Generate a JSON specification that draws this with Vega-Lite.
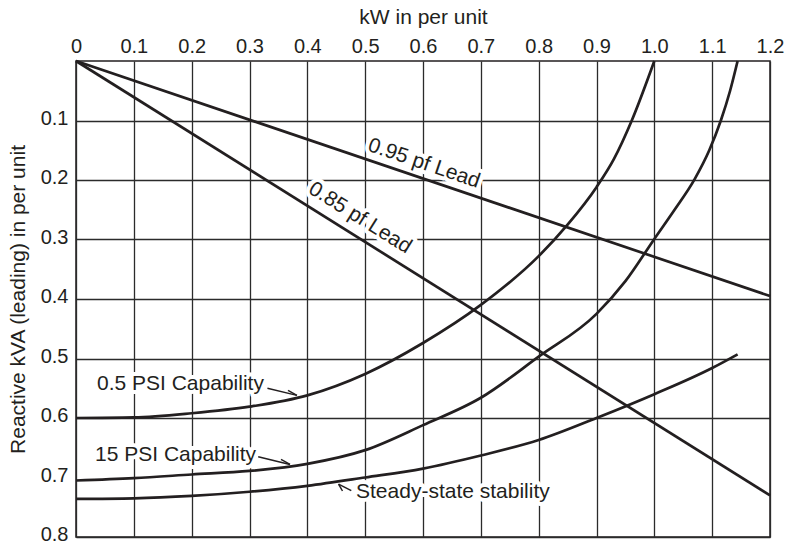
{
  "$schema": "https://vega.github.io/schema/vega-lite/v6.json",
  "width": 694,
  "height": 476,
  "autosize": {"type": "none"},
  "padding": {"left": 76, "top": 61, "right": 19, "bottom": 7},
  "background": "white",
  "view": {"stroke": "#231f20", "strokeWidth": 1.5},
  "config": {
    "font": "Liberation Sans",
    "text": {"font": "Liberation Sans", "fontSize": 21, "color": "#231f20"}
  },
  "datasets": {
    "curves": [
      {"series": "0.5 PSI", "x": 0, "y": 0.600},
      {"series": "0.5 PSI", "x": 0.1, "y": 0.599},
      {"series": "0.5 PSI", "x": 0.2, "y": 0.592},
      {"series": "0.5 PSI", "x": 0.3, "y": 0.581},
      {"series": "0.5 PSI", "x": 0.4, "y": 0.562},
      {"series": "0.5 PSI", "x": 0.5, "y": 0.526},
      {"series": "0.5 PSI", "x": 0.6, "y": 0.474},
      {"series": "0.5 PSI", "x": 0.7, "y": 0.41},
      {"series": "0.5 PSI", "x": 0.8, "y": 0.328},
      {"series": "0.5 PSI", "x": 0.85, "y": 0.275},
      {"series": "0.5 PSI", "x": 0.9, "y": 0.212},
      {"series": "0.5 PSI", "x": 0.93, "y": 0.165},
      {"series": "0.5 PSI", "x": 0.961, "y": 0.1},
      {"series": "0.5 PSI", "x": 1.0, "y": 0.0},
      {"series": "15 PSI", "x": 0, "y": 0.705},
      {"series": "15 PSI", "x": 0.1, "y": 0.701},
      {"series": "15 PSI", "x": 0.2, "y": 0.695},
      {"series": "15 PSI", "x": 0.3, "y": 0.689},
      {"series": "15 PSI", "x": 0.4, "y": 0.677},
      {"series": "15 PSI", "x": 0.5, "y": 0.654},
      {"series": "15 PSI", "x": 0.6, "y": 0.612},
      {"series": "15 PSI", "x": 0.7, "y": 0.566},
      {"series": "15 PSI", "x": 0.8, "y": 0.497},
      {"series": "15 PSI", "x": 0.9, "y": 0.425},
      {"series": "15 PSI", "x": 0.95, "y": 0.37},
      {"series": "15 PSI", "x": 1.0, "y": 0.299},
      {"series": "15 PSI", "x": 1.035, "y": 0.25},
      {"series": "15 PSI", "x": 1.07, "y": 0.198},
      {"series": "15 PSI", "x": 1.095, "y": 0.15},
      {"series": "15 PSI", "x": 1.115, "y": 0.1},
      {"series": "15 PSI", "x": 1.131, "y": 0.05},
      {"series": "15 PSI", "x": 1.144, "y": 0.0},
      {"series": "Steady", "x": 0, "y": 0.736},
      {"series": "Steady", "x": 0.1, "y": 0.735},
      {"series": "Steady", "x": 0.2, "y": 0.731},
      {"series": "Steady", "x": 0.3, "y": 0.724},
      {"series": "Steady", "x": 0.4, "y": 0.714},
      {"series": "Steady", "x": 0.5, "y": 0.70},
      {"series": "Steady", "x": 0.6, "y": 0.685},
      {"series": "Steady", "x": 0.7, "y": 0.663},
      {"series": "Steady", "x": 0.8, "y": 0.637},
      {"series": "Steady", "x": 0.9, "y": 0.60},
      {"series": "Steady", "x": 1.0, "y": 0.56},
      {"series": "Steady", "x": 1.1, "y": 0.516},
      {"series": "Steady", "x": 1.144, "y": 0.493},
      {"series": "0.95 pf", "x": 0, "y": 0},
      {"series": "0.95 pf", "x": 1.2, "y": 0.395},
      {"series": "0.85 pf", "x": 0, "y": 0},
      {"series": "0.85 pf", "x": 1.2, "y": 0.73}
    ],
    "arrows": [
      {"seg": "a1", "x": 0.331, "y": 0.550},
      {"seg": "a1", "x": 0.382, "y": 0.562},
      {"seg": "b1", "x": 0.3666, "y": 0.5536},
      {"seg": "b1", "x": 0.382, "y": 0.562},
      {"seg": "a2", "x": 0.315, "y": 0.665},
      {"seg": "a2", "x": 0.370, "y": 0.678},
      {"seg": "b2", "x": 0.3545, "y": 0.6696},
      {"seg": "b2", "x": 0.370, "y": 0.678},
      {"seg": "a3", "x": 0.454, "y": 0.711},
      {"seg": "a3", "x": 0.476, "y": 0.722},
      {"seg": "b3", "x": 0.454, "y": 0.711},
      {"seg": "b3", "x": 0.4608, "y": 0.7227}
    ],
    "labels": [
      {"label": "0.5 PSI Capability", "kind": "h", "x": 0.0363, "y": 0.5435},
      {"label": "15 PSI Capability", "kind": "h", "x": 0.0329, "y": 0.662},
      {"label": "Steady-state stability", "kind": "h", "x": 0.4842, "y": 0.7244},
      {"label": "0.95 pf Lead", "kind": "r95", "x": 0.6018, "y": 0.1723},
      {"label": "0.85 pf Lead", "kind": "r85", "x": 0.4911, "y": 0.2639}
    ]
  },
  "encoding": {
    "x": {
      "field": "x",
      "type": "quantitative",
      "scale": {"domain": [0, 1.2], "nice": false, "zero": false},
      "axis": {
        "orient": "top",
        "title": "kW in per unit",
        "values": [0, 0.1, 0.2, 0.3, 0.4, 0.5, 0.6, 0.7, 0.8, 0.9, 1.0, 1.1, 1.2],
        "labelExpr": "datum.value == 0 ? '0' : format(datum.value, '.1f')",
        "domain": false,
        "ticks": false,
        "grid": true,
        "gridColor": "#2b2b2b",
        "gridWidth": 1.3,
        "gridOpacity": 1,
        "labelFont": "Liberation Sans",
        "labelFontSize": 20,
        "labelColor": "#231f20",
        "labelPadding": 5,
        "labelFlush": false,
        "labelOverlap": false,
        "titleFont": "Liberation Sans",
        "titleFontSize": 21,
        "titleFontWeight": "normal",
        "titleColor": "#231f20",
        "titlePadding": 9
      }
    },
    "y": {
      "field": "y",
      "type": "quantitative",
      "scale": {"domain": [0, 0.8], "nice": false, "zero": false, "reverse": true},
      "axis": {
        "orient": "left",
        "title": "Reactive kVA (leading) in per unit",
        "values": [0.1, 0.2, 0.3, 0.4, 0.5, 0.6, 0.7, 0.8],
        "format": ".1f",
        "domain": false,
        "ticks": false,
        "grid": true,
        "gridColor": "#2b2b2b",
        "gridWidth": 1.3,
        "gridOpacity": {"condition": {"test": "datum.value > 0.65 && datum.value < 0.75", "value": 0}, "value": 1},
        "labelFont": "Liberation Sans",
        "labelFontSize": 20,
        "labelColor": "#231f20",
        "labelPadding": 8,
        "labelOffset": -2.5,
        "labelFlush": false,
        "labelOverlap": false,
        "titleFont": "Liberation Sans",
        "titleFontSize": 21,
        "titleFontWeight": "normal",
        "titleColor": "#231f20",
        "titlePadding": 12
      }
    }
  },
  "layer": [
    {
      "data": {"name": "labels"},
      "transform": [{"filter": "datum.kind == 'h'"}],
      "mark": {"type": "text", "align": "left", "baseline": "middle", "fontSize": 21, "fill": "white", "stroke": "white", "strokeWidth": 8, "strokeJoin": "round"},
      "encoding": {"text": {"field": "label"}}
    },
    {
      "data": {"name": "labels"},
      "transform": [{"filter": "datum.kind == 'r95'"}],
      "mark": {"type": "text", "align": "center", "baseline": "middle", "angle": 18.7, "fontSize": 21, "fill": "white", "stroke": "white", "strokeWidth": 8, "strokeJoin": "round"},
      "encoding": {"text": {"field": "label"}}
    },
    {
      "data": {"name": "labels"},
      "transform": [{"filter": "datum.kind == 'r85'"}],
      "mark": {"type": "text", "align": "center", "baseline": "middle", "angle": 32, "fontSize": 21, "fill": "white", "stroke": "white", "strokeWidth": 8, "strokeJoin": "round"},
      "encoding": {"text": {"field": "label"}}
    },
    {
      "data": {"name": "curves"},
      "mark": {"type": "line", "stroke": "#231f20", "strokeWidth": 2.7, "interpolate": "monotone"},
      "encoding": {"detail": {"field": "series"}}
    },
    {
      "data": {"name": "arrows"},
      "mark": {"type": "line", "stroke": "#231f20", "strokeWidth": 1.5},
      "encoding": {"detail": {"field": "seg"}}
    },
    {
      "data": {"name": "labels"},
      "transform": [{"filter": "datum.kind == 'h'"}],
      "mark": {"type": "text", "align": "left", "baseline": "middle", "fontSize": 21, "fill": "#231f20"},
      "encoding": {"text": {"field": "label"}}
    },
    {
      "data": {"name": "labels"},
      "transform": [{"filter": "datum.kind == 'r95'"}],
      "mark": {"type": "text", "align": "center", "baseline": "middle", "angle": 18.7, "fontSize": 21, "fill": "#231f20"},
      "encoding": {"text": {"field": "label"}}
    },
    {
      "data": {"name": "labels"},
      "transform": [{"filter": "datum.kind == 'r85'"}],
      "mark": {"type": "text", "align": "center", "baseline": "middle", "angle": 32, "fontSize": 21, "fill": "#231f20"},
      "encoding": {"text": {"field": "label"}}
    }
  ]
}
